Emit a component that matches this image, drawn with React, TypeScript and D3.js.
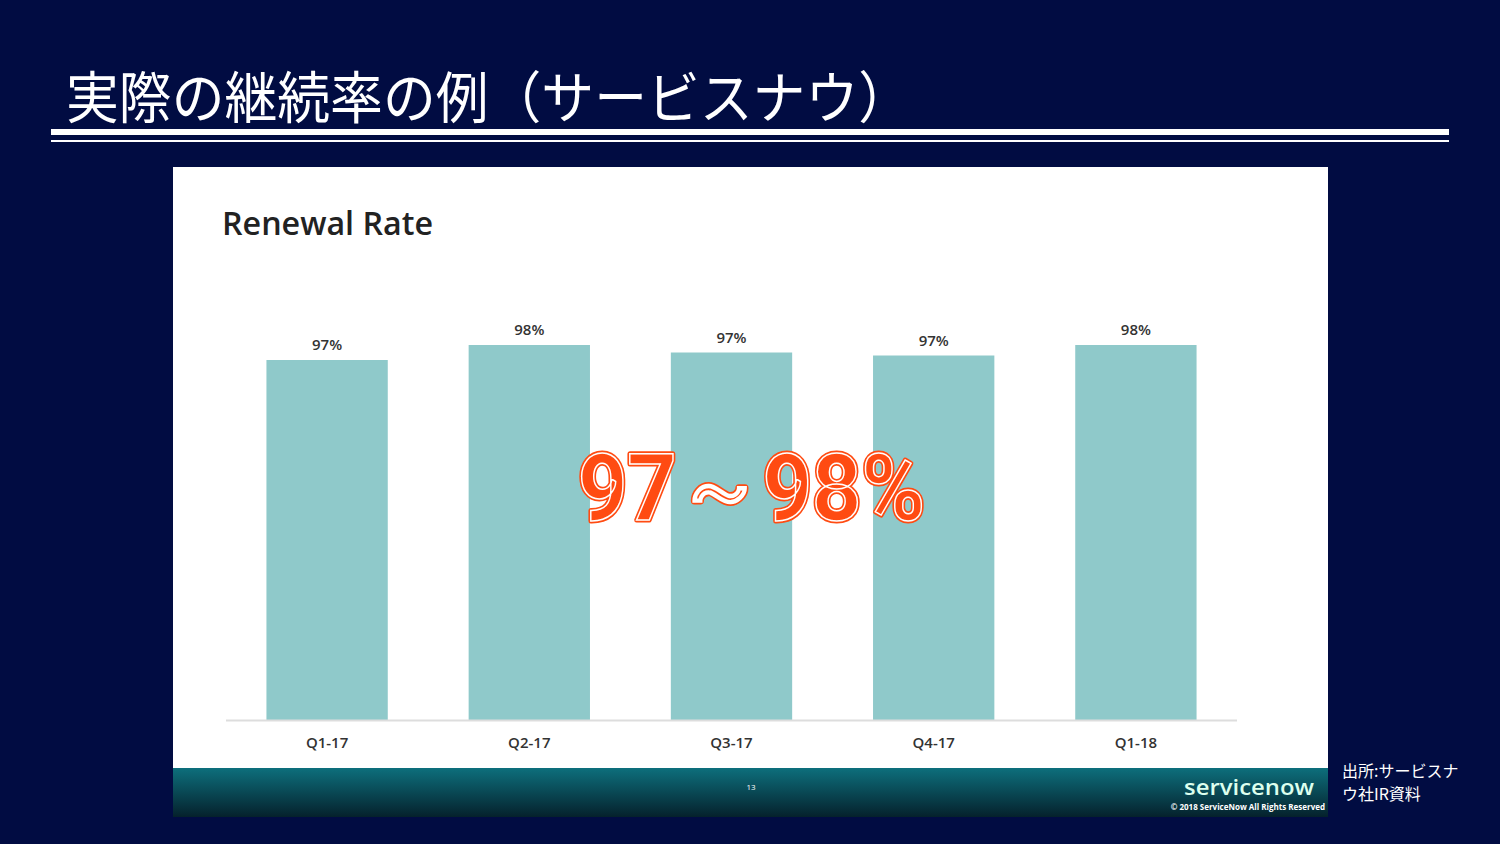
import * as React from 'react';
import * as d3 from 'd3';

const categories = ['Q1-17', 'Q2-17', 'Q3-17', 'Q4-17', 'Q1-18'];
const values = [97.0, 98.0, 97.5, 97.3, 98.0];
const labels = ['97%', '98%', '97%', '97%', '98%'];

const W = 1500;
const H = 844;

const App: React.FC = () => {
  const x = d3.scaleBand<string>().domain(categories).range([226, 1237]).paddingInner(0.4).paddingOuter(0.2);
  const y = d3.scaleLinear().domain([73, 98]).range([720, 345]);

  return (
    <div style={{ position: 'fixed', inset: 0, background: '#010c42' }}>
      <svg width={W} height={H} viewBox={`0 0 ${W} ${H}`} style={{ display: 'block' }}>
        <defs>
          <linearGradient id="foot" x1="0" y1="0" x2="0" y2="1">
            <stop offset="0" stopColor="#0d6f7c" />
            <stop offset="1" stopColor="#05212c" />
          </linearGradient>
        </defs>
        <rect width={W} height={H} fill="#010c42" />
        <text x={66} y={118} fill="#fff" fontSize={56} fontFamily="'Noto Sans CJK JP', sans-serif"
          textLength={845} lengthAdjust="spacingAndGlyphs">
          実際の継続率の例（サービスナウ）
        </text>
        <rect x={51} y={129} width={1398} height={6} fill="#fff" />
        <rect x={51} y={140} width={1398} height={2} fill="#fff" />

        <rect x={173} y={167} width={1155} height={650} fill="#fff" />
        <text x={222} y={235} fontSize={32} fontWeight={600} fill="#222" fontFamily="'Open Sans', sans-serif"
          textLength={211} lengthAdjust="spacingAndGlyphs">Renewal Rate</text>

        {categories.map((c, i) => (
          <g key={c}>
            <rect x={x(c)} y={y(values[i])} width={x.bandwidth()} height={720 - y(values[i])} fill="#8fc9ca" />
            <text x={x(c)! + x.bandwidth() / 2} y={y(values[i]) - 10} textAnchor="middle" fontSize={15} fontWeight={600} fill="#333"
              fontFamily="'Open Sans', sans-serif">{labels[i]}</text>
            <text x={x(c)! + x.bandwidth() / 2} y={748} textAnchor="middle" fontSize={15} fontWeight={600} fill="#333"
              fontFamily="'Open Sans', sans-serif">{c}</text>
          </g>
        ))}
        <line x1={226} x2={1237} y1={720.5} y2={720.5} stroke="#ddd" strokeWidth={2} />

        <g fontFamily="Roboto, sans-serif" fontWeight="bold" fontSize={92}>
          <text x={578} y={520} fill="#ff4b12" stroke="#ff4b12" strokeWidth={5} strokeLinejoin="round"
            textLength={347} lengthAdjust="spacingAndGlyphs">97～98%</text>
          <text x={578} y={520} fill="#ff4b12" stroke="#fff" strokeWidth={1.5}
            textLength={347} lengthAdjust="spacingAndGlyphs">97～98%</text>
        </g>

        <rect x={173} y={768} width={1155} height={49} fill="url(#foot)" />
        <text x={751} y={790} fill="#fff" fontSize={8} textAnchor="middle" fontFamily="'Open Sans', sans-serif">13</text>
        <text x={1314} y={795} fill="#dfe" fontSize={22} fontWeight={600} textAnchor="end" fontFamily="'Open Sans', sans-serif"
          textLength={130} lengthAdjust="spacingAndGlyphs">servicenow</text>
        <text x={1325} y={810} fill="#fff" fontSize={8} fontWeight="bold" textAnchor="end" fontFamily="'Open Sans', sans-serif">
          © 2018 ServiceNow All Rights Reserved
        </text>

        <g fill="#fff" fontSize={16} fontFamily="'Noto Sans CJK JP', sans-serif">
          <text x={1342} y={777}>出所:サービスナ</text>
          <text x={1342} y={800}>ウ社IR資料</text>
        </g>
      </svg>
    </div>
  );
};

export default App;
